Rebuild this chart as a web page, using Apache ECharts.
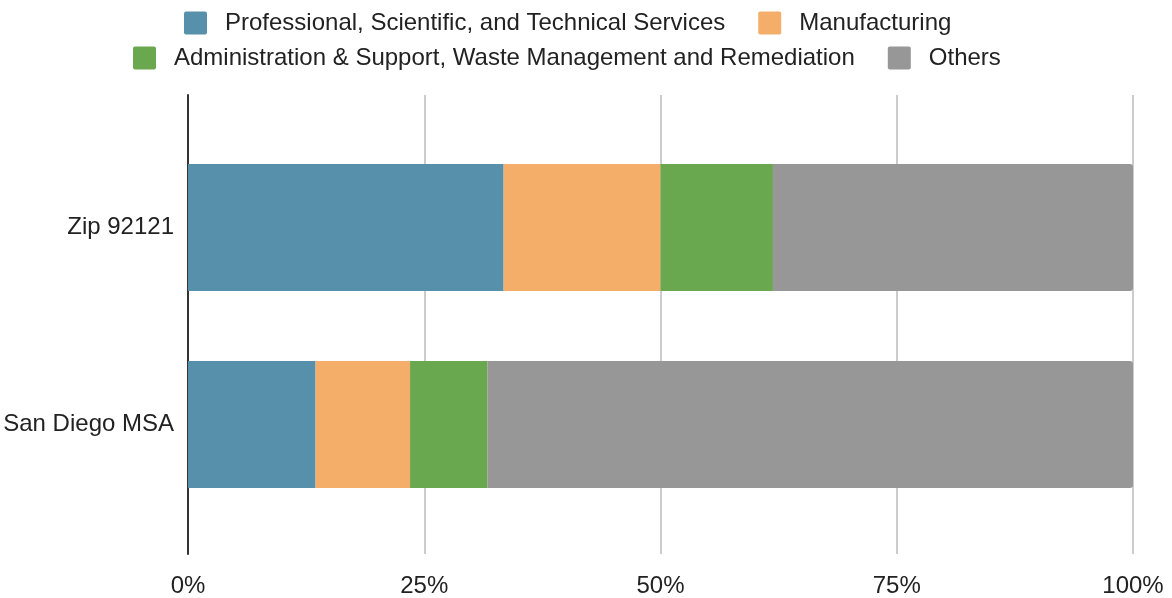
<!DOCTYPE html>
<html>
<head>
<meta charset="utf-8">
<script src="https://cdn.jsdelivr.net/npm/echarts@6/dist/echarts.min.js"></script>
<style>
  html, body { margin: 0; padding: 0; background: #fff; }
  #chart { width: 1172px; height: 598px; }
</style>
</head>
<body>
<div id="chart"></div>
<script>
// Share of employment by industry, in percent
const categories = ['Zip 92121', 'San Diego MSA'];
const seriesNames = [
  'Professional, Scientific, and Technical Services',
  'Manufacturing',
  'Administration & Support, Waste Management and Remediation',
  'Others'
];
const professional = [33.4, 13.5];
const manufacturing = [16.6, 10.0];
const administration = [11.9, 8.2];
const others = [38.1, 68.3];
const xTicks = [0, 25, 50, 75, 100];

const colors = ['#5790ab', '#f4ae6a', '#6aa84f', '#979797'];
const seriesData = [professional, manufacturing, administration, others];
const FONT = '"Liberation Sans", Arial, sans-serif';
const TEXT = '#222';

// square swatch with slightly rounded corners
const SWATCH = 'path://M2,0 H21 Q23,0 23,2 V21 Q23,23 21,23 H2 Q0,23 0,21 V2 Q0,0 2,0 Z';

const chart = echarts.init(document.getElementById('chart'), null, { renderer: 'canvas' });

const legendBase = {
  icon: SWATCH,
  itemWidth: 23,
  itemHeight: 23,
  itemGap: 33,
  selectedMode: false,
  textStyle: { fontFamily: FONT, fontSize: 24, color: TEXT, padding: [0, 0, 0, 13] }
};

chart.setOption({
  animation: false,
  color: colors,
  legend: [
    Object.assign({}, legendBase, { left: 179, top: 6, data: seriesNames.slice(0, 2) }),
    Object.assign({}, legendBase, { left: 128, top: 41, data: seriesNames.slice(2, 4) })
  ],
  grid: [
    // frame: baseline and vertical gridlines
    { left: 188, right: 39, top: 95, bottom: 43 },
    // bars
    { left: 188, right: 39, top: 129, bottom: 75 }
  ],
  xAxis: [
    {
      gridIndex: 0,
      type: 'value',
      min: xTicks[0],
      max: xTicks[xTicks.length - 1],
      interval: 25,
      axisLine: { show: false },
      axisTick: { show: false },
      splitLine: { show: true, lineStyle: { color: '#cccccc', width: 2 } },
      axisLabel: {
        fontFamily: FONT, fontSize: 24, color: TEXT, margin: 20,
        formatter: v => v + '%'
      }
    },
    {
      gridIndex: 1,
      type: 'value',
      min: 0,
      max: 100,
      show: false
    }
  ],
  yAxis: [
    {
      gridIndex: 0,
      type: 'value',
      min: 0,
      max: 1,
      axisLine: { show: true, lineStyle: { color: '#333', width: 2 } },
      axisTick: { show: false },
      axisLabel: { show: false },
      splitLine: { show: false }
    },
    {
      gridIndex: 1,
      type: 'category',
      inverse: true,
      data: categories,
      axisLine: { show: false },
      axisTick: { show: false },
      splitLine: { show: false },
      axisLabel: { fontFamily: FONT, fontSize: 24, color: TEXT, margin: 14 }
    }
  ],
  series: seriesNames.map((name, i) => ({
    name,
    type: 'bar',
    stack: 'total',
    xAxisIndex: 1,
    yAxisIndex: 1,
    barWidth: 127,
    data: seriesData[i],
    itemStyle: {
      color: colors[i],
      borderRadius: i === seriesNames.length - 1 ? [0, 3, 3, 0] : 0
    }
  }))
});
</script>
</body>
</html>
